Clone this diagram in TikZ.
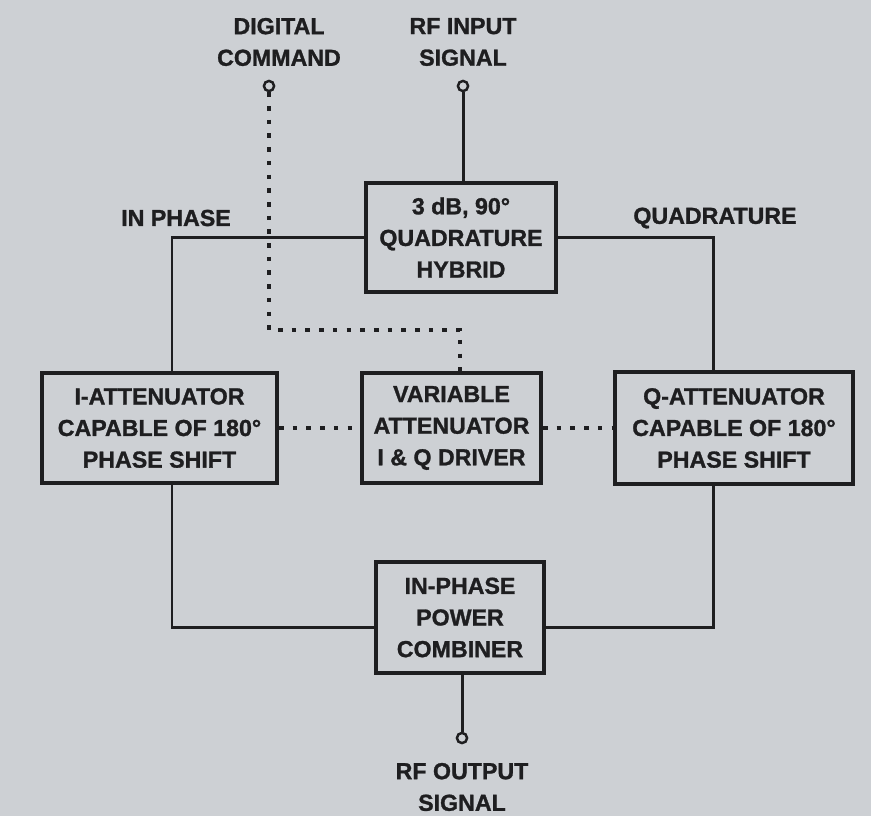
\documentclass[tikz,border=0pt]{standalone}
\usepackage{fontspec}
\setmainfont{Liberation Sans}[BoldFeatures={FakeBold=1.2}]
\usetikzlibrary{positioning}
\definecolor{paper}{RGB}{205,208,212}
\definecolor{ink}{RGB}{30,30,32}

\begin{document}
\begin{tikzpicture}[x=0.02cm, y=-0.02cm,
    block/.style={draw=ink, line width=2.3pt, fill=paper, align=center,
                  inner sep=0pt, text=ink,
                  font=\bfseries\fontsize{13.2}{18}\selectfont},
    lbl/.style={align=center, text=ink, inner sep=0pt,
                font=\bfseries\fontsize{13.2}{18}\selectfont},
    wire/.style={ink, line width=1.7pt},
    ctrl/.style={ink, line width=1.8pt, dash pattern=on 2.6pt off 5.2pt},
    port/.style={circle, draw=ink, line width=1.4pt, fill=paper,
                 inner sep=0pt, minimum size=5.8pt}]
    % Page
    \fill[paper] (0,0) rectangle (871,816);

    % Blocks
    \node[block, minimum width=3.8cm, minimum height=2.18cm] (hybrid)
        at (461,237.5) {3 dB, 90°\\QUADRATURE\\HYBRID};
    \node[block, minimum width=4.7cm, minimum height=2.2cm] (iatt)
        at (159.5,428) {I-ATTENUATOR\\CAPABLE OF 180°\\PHASE SHIFT};
    \node[block, minimum width=3.58cm, minimum height=2.2cm] (vad)
        at (451.5,428) {VARIABLE\\ATTENUATOR\\I \& Q DRIVER};
    \node[block, minimum width=4.76cm, minimum height=2.24cm] (qatt)
        at (734,428) {Q-ATTENUATOR\\CAPABLE OF 180°\\PHASE SHIFT};
    \node[block, minimum width=3.36cm, minimum height=2.22cm] (comb)
        at (460,617.5) {IN-PHASE\\POWER\\COMBINER};

    % Ports
    \node[port] (in) at (463,86) {};
    \node[port] (cmd) at (269,86) {};
    \node[port] (out) at (462,738) {};

    % Bends
    \coordinate (ibus) at (172,627);
    \coordinate (qbus) at (713,627);
    \coordinate (tap) at (460,330);

    % RF path
    \draw[wire] (in) -- (in |- hybrid.north);
    \draw[wire] (hybrid.west) -| (iatt.north -| ibus);
    \draw[wire] (hybrid.east) -| (qatt.north -| qbus);
    \draw[wire] (iatt.south -| ibus) |- (comb.west |- ibus);
    \draw[wire] (qatt.south -| qbus) |- (comb.east |- qbus);
    \draw[wire] (out |- comb.south) -- (out);

    % Control lines
    \draw[ctrl] (cmd) |- (tap) -- (tap |- vad.north);
    \draw[ctrl] (iatt.east) -- (vad.west);
    \draw[ctrl] (vad.east) -- (qatt.west);

    % Labels
    \node[lbl] (cmdlbl) at (279,42) {DIGITAL\\COMMAND};
    \node[lbl] (inlbl) at (463,42) {RF INPUT\\SIGNAL};
    \node[lbl] (outlbl) at (462,787) {RF OUTPUT\\SIGNAL};
    \node[lbl] (iphase) at (176,218) {IN PHASE};
    \node[lbl] (quad) at (715,218) {QUADRATURE};
\end{tikzpicture}
\end{document}
